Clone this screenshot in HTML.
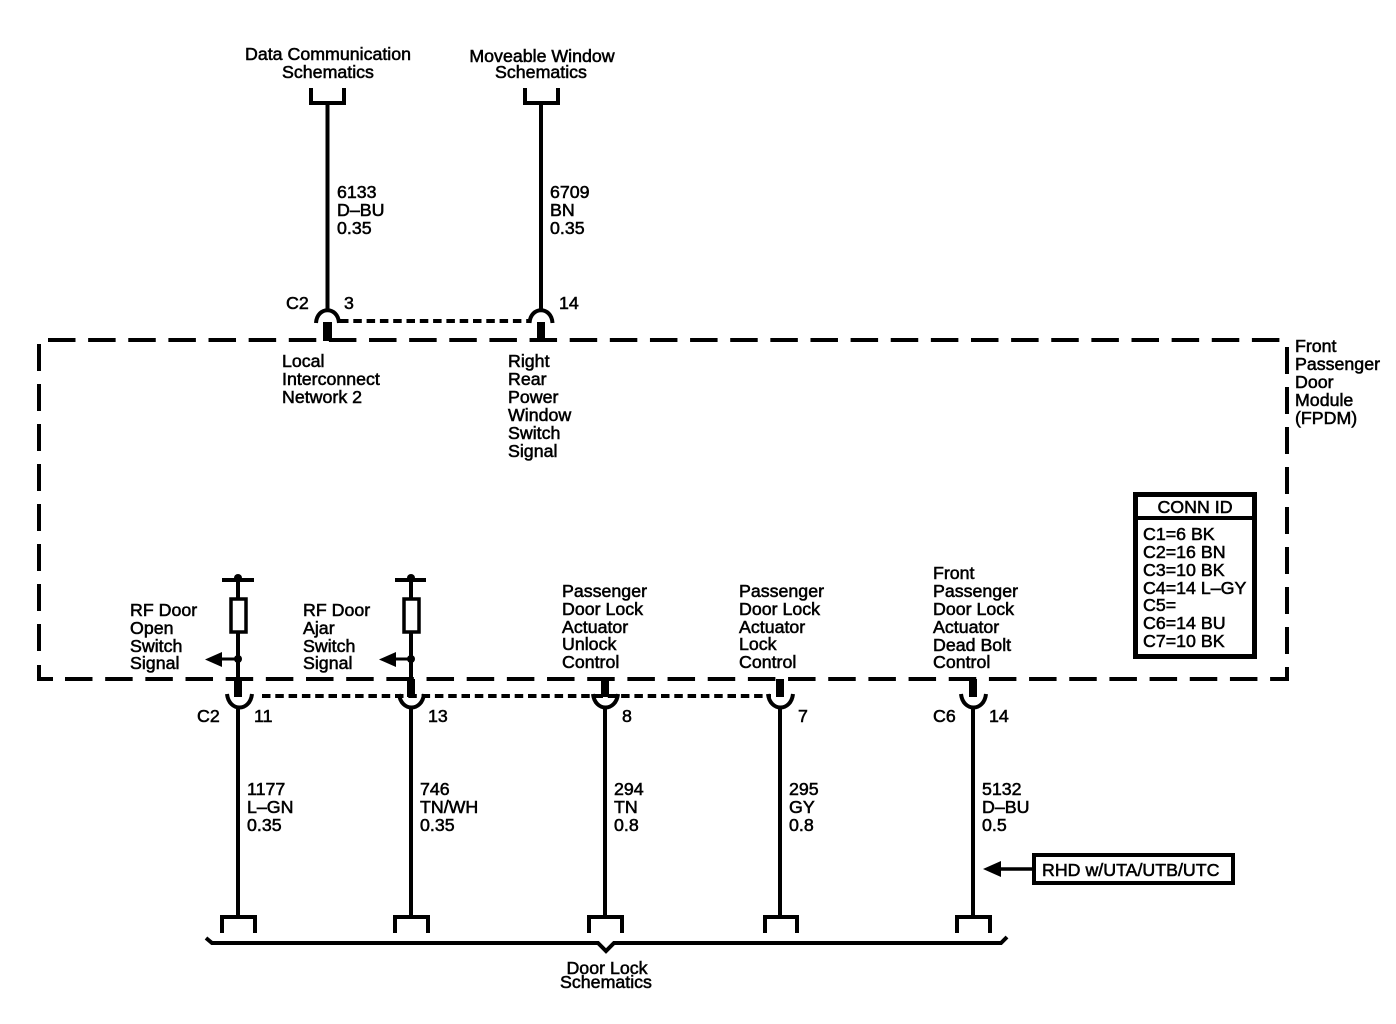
<!DOCTYPE html>
<html>
<head>
<meta charset="utf-8">
<style>
html,body{margin:0;padding:0;background:#fff;}
svg{display:block;}
text{font-family:"Liberation Sans",Arial,sans-serif;font-size:17.8px;fill:#000;stroke:#000;stroke-width:.55px;}
.c{text-anchor:middle;}
.l{stroke:#000;stroke-width:4;fill:none;}
.f{fill:#000;stroke:none;}
</style>
</head>
<body>
<svg width="1396" height="1024" viewBox="0 0 1396 1024" xmlns="http://www.w3.org/2000/svg">
<rect width="1396" height="1024" fill="#fff"/>

<!-- module dashed border -->
<g class="l">
<path d="M48 340H1280" stroke-dasharray="27.500 12.630"/>
<path d="M1287 347V668" stroke-dasharray="27 13"/>
<path d="M39 344V652" stroke-dasharray="27 13"/>
<path d="M39 665V679H53"/>
<path d="M65 679H1271" stroke-dasharray="27.500 12.670"/>
<path d="M1287 667V679H1271"/>
</g>

<!-- top connectors -->
<path class="l" d="M311 88V103H344V88M327.500 103V312"/>
<path class="l" d="M525 88V103H558V88M541 103V312"/>
<path class="l" d="M316 323C317 306 338 306 339 323"/>
<path class="l" d="M529.500 323C530.500 306 551.500 306 552.500 323"/>
<rect class="f" x="323" y="322" width="9" height="19"/>
<rect class="f" x="537" y="322" width="8" height="19"/>
<path class="l" d="M340 321H529" stroke-dasharray="8.500 4.800"/>

<!-- bottom connectors -->
<g>
<path class="l" d="M222 580H254M238 580V598M238 632V680"/>
<circle class="f" cx="238" cy="578" r="4"/>
<rect x="231" y="599" width="15" height="33" fill="#fff" stroke="#000" stroke-width="3.500"/>
<circle class="f" cx="238" cy="659" r="4"/>
<path class="l" d="M220 659H238" style="stroke-width:3"/>
<path class="f" d="M205 659.500L222 652V667Z"/>

<path class="l" d="M395 580H426M411 580V598M411 632V680"/>
<circle class="f" cx="411" cy="578" r="4"/>
<rect x="404" y="599" width="15" height="33" fill="#fff" stroke="#000" stroke-width="3.500"/>
<circle class="f" cx="411" cy="659" r="4"/>
<path class="l" d="M393 659H411" style="stroke-width:3"/>
<path class="f" d="M379 659.500L396 652V667Z"/>
</g>

<g id="pins">
<rect class="f" x="234" y="679" width="8" height="18"/>
<rect class="f" x="407" y="679" width="8" height="18"/>
<rect class="f" x="601" y="679" width="8" height="18"/>
<rect class="f" x="776" y="679" width="8" height="18"/>
<rect class="f" x="969" y="679" width="8" height="18"/>
</g>
<path class="l" d="M227 694C229 712 250 712 252 694"/>
<path class="l" d="M399 694C401 712 422 712 424 694"/>
<path class="l" d="M593 694C595 712 616 712 618 694"/>
<path class="l" d="M768 694C770 712 791 712 793 694"/>
<path class="l" d="M961 694C963 712 984 712 986 694"/>
<path class="l" d="M262 696H771" stroke-dasharray="8.500 4.800"/>

<path class="l" d="M238 707V917"/>
<path class="l" d="M411 707V917"/>
<path class="l" d="M605 707V917"/>
<path class="l" d="M780 707V917"/>
<path class="l" d="M973 707V917"/>

<path class="l" d="M222 933V917H255V933"/>
<path class="l" d="M395 933V917H428V933"/>
<path class="l" d="M589 933V917H622V933"/>
<path class="l" d="M765 933V917H797V933"/>
<path class="l" d="M957 933V917H990V933"/>

<!-- brace -->
<path class="l" d="M206 938L212 943H598L606 951L614 943H1001L1007 937"/>

<!-- RHD -->
<rect x="1034" y="855" width="199" height="28" fill="#fff" stroke="#000" stroke-width="4"/>
<path class="l" d="M998 869H1034" style="stroke-width:3.500"/>
<path class="f" d="M983 869L1001 861V877Z"/>

<!-- CONN ID -->
<rect x="1135.500" y="494.500" width="119" height="162" fill="#fff" stroke="#000" stroke-width="5"/>
<path class="l" d="M1135 518H1255"/>

<!-- text -->
<text class="c" x="328" y="60">Data Communication</text>
<text class="c" x="328" y="78">Schematics</text>
<text class="c" x="542" y="62">Moveable Window</text>
<text class="c" x="541" y="78">Schematics</text>

<text x="337" y="198">6133</text><text x="337" y="216">D&#8211;BU</text><text x="337" y="234">0.35</text>
<text x="550" y="198">6709</text><text x="550" y="216">BN</text><text x="550" y="234">0.35</text>

<text x="286" y="309">C2</text><text x="344" y="309">3</text><text x="559" y="309">14</text>

<text x="282" y="367">Local</text><text x="282" y="385">Interconnect</text><text x="282" y="403">Network 2</text>

<text x="508" y="367">Right</text><text x="508" y="385">Rear</text><text x="508" y="403">Power</text><text x="508" y="421">Window</text><text x="508" y="439">Switch</text><text x="508" y="457">Signal</text>

<text x="1295" y="352">Front</text><text x="1295" y="370">Passenger</text><text x="1295" y="388">Door</text><text x="1295" y="406">Module</text><text x="1295" y="424">(FPDM)</text>

<text class="c" x="1195" y="513">CONN ID</text>
<text x="1143" y="540">C1=6 BK</text>
<text x="1143" y="558">C2=16 BN</text>
<text x="1143" y="576">C3=10 BK</text>
<text x="1143" y="594">C4=14 L&#8211;GY</text>
<text x="1143" y="611">C5=</text>
<text x="1143" y="629">C6=14 BU</text>
<text x="1143" y="647">C7=10 BK</text>

<text x="130" y="616">RF Door</text><text x="130" y="634">Open</text><text x="130" y="652">Switch</text><text x="130" y="669">Signal</text>
<text x="303" y="616">RF Door</text><text x="303" y="634">Ajar</text><text x="303" y="652">Switch</text><text x="303" y="669">Signal</text>

<text x="562" y="597">Passenger</text><text x="562" y="615">Door Lock</text><text x="562" y="633">Actuator</text><text x="562" y="650">Unlock</text><text x="562" y="668">Control</text>
<text x="739" y="597">Passenger</text><text x="739" y="615">Door Lock</text><text x="739" y="633">Actuator</text><text x="739" y="650">Lock</text><text x="739" y="668">Control</text>
<text x="933" y="579">Front</text><text x="933" y="597">Passenger</text><text x="933" y="615">Door Lock</text><text x="933" y="633">Actuator</text><text x="933" y="651">Dead Bolt</text><text x="933" y="668">Control</text>

<text x="197" y="722">C2</text><text x="254" y="722">11</text><text x="428" y="722">13</text><text x="622" y="722">8</text><text x="798" y="722">7</text><text x="933" y="722">C6</text><text x="989" y="722">14</text>

<text x="247" y="795">1177</text><text x="247" y="813">L&#8211;GN</text><text x="247" y="831">0.35</text>
<text x="420" y="795">746</text><text x="420" y="813">TN/WH</text><text x="420" y="831">0.35</text>
<text x="614" y="795">294</text><text x="614" y="813">TN</text><text x="614" y="831">0.8</text>
<text x="789" y="795">295</text><text x="789" y="813">GY</text><text x="789" y="831">0.8</text>
<text x="982" y="795">5132</text><text x="982" y="813">D&#8211;BU</text><text x="982" y="831">0.5</text>

<text x="1042" y="876">RHD w/UTA/UTB/UTC</text>

<text class="c" x="607" y="974">Door Lock</text>
<text class="c" x="606" y="988">Schematics</text>
</svg>
</body>
</html>
